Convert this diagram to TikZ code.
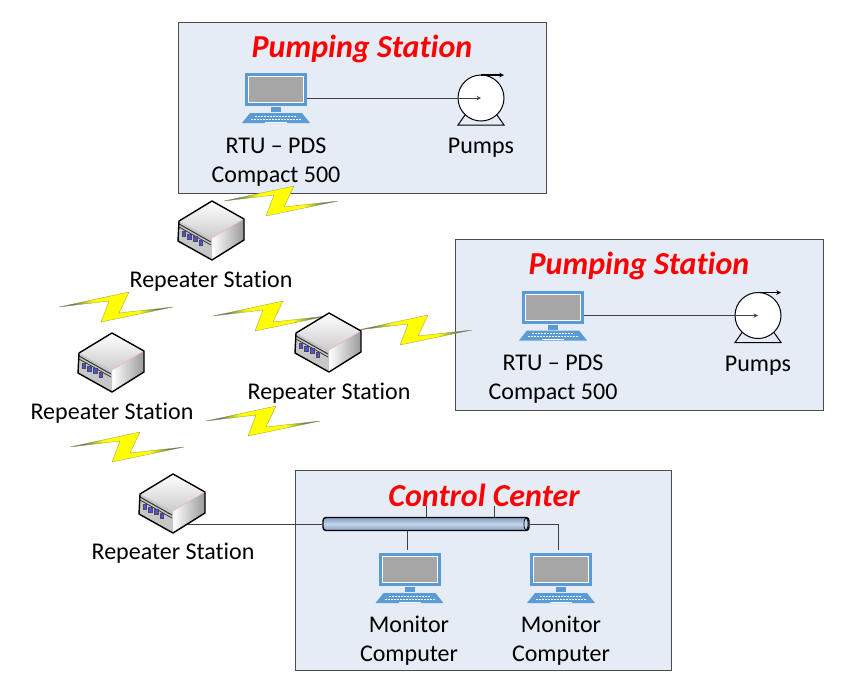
\documentclass[tikz,border=0pt]{standalone}
\usepackage{fontspec}
\setmainfont{Carlito}[Ligatures=NoCommon]
\definecolor{boxfill}{HTML}{E6ECF6}
\definecolor{pcblue}{HTML}{5B9BD5}
\definecolor{pcgray}{HTML}{A6A6A6}
\definecolor{wireline}{HTML}{404040}
\definecolor{busdark}{HTML}{7F9FC4}
\definecolor{buslight}{HTML}{C5D5E8}
\pgfdeclarehorizontalshading{boltshade}{100bp}{rgb(0bp)=(0.1,0.3,0.55); rgb(28bp)=(0.1,0.3,0.55); rgb(40bp)=(1,1,0); rgb(60bp)=(1,1,0); rgb(72bp)=(0.1,0.3,0.55); rgb(100bp)=(0.1,0.3,0.55)}
\tikzset{
    stationbox/.style={draw=black!70, fill=boxfill, line width=0.8pt},
    title/.style={text=red, font=\fontsize{32}{38}\selectfont\bfseries\itshape, inner sep=0pt},
    label/.style={font=\fontsize{24}{29}\selectfont, align=center, inner sep=0pt},
    wire/.style={draw=wireline, line width=1pt},
    % Computer: origine al centro del bordo superiore dello schermo
    computer/.pic={
        \fill[pcblue] (-31,0) rectangle (31,33);
        \fill[white] (-28,3) rectangle (28,30);
        \fill[pcgray] (-27,4) rectangle (27,29);
        \fill[pcblue] (-5,34) rectangle (5,39);
        \fill[pcblue] (-26,40) -- (26,40) -- (34,50) -- (-34,50) -- cycle;
        \draw[white, line width=1pt, dash pattern=on 2pt off 1pt] (-21,43) -- (21,43);
        \draw[white, line width=1pt, dash pattern=on 2pt off 1pt] (-25,46) -- (25,46);
        \draw[white, line width=1pt] (-11,49) -- (11,49);
        \coordinate (-out) at (31,25);
        \coordinate (-top) at (-2.5,-3);
    },
    % Pompa: origine al centro del cerchio
    pump/.pic={
        \draw[line width=1pt] (-16,17) -- (-23,27) -- (23,27) -- (16,17);
        \draw[fill=white, line width=1pt] (0,0) circle (23);
        \draw[->, line width=1.1pt] (0,-23) -- (23,-23);
        \coordinate (-in) at (0,0);
    },
    % Repeater: origine allo spigolo centrale
    repeater/.pic={
        \shade[top color=white, bottom color=black!20] (0,-37) -- (-33,-17) -- (0,0) -- (32,-19) -- cycle;
        \shade[left color=white, right color=black!40] (0,0) -- (32,-19) -- (32,2) -- (0,22) -- cycle;
        \fill[black!22] (0,0) -- (-33,-17) -- (-34,3) -- (0,22) -- cycle;
        \draw[magenta!35, line width=0.5pt] (0,0) -- (32,-19);
        \draw[black!80, line width=1pt] (-33,-14) -- (-1,4);
        \draw[black!80, line width=0.8pt] (-33,-11) -- (-1,7);
        \foreach \px/\py in {-28.3/-4.3, -22.7/-1.7, -17/1, -11.3/4.5}
            \filldraw[blue!70!white, draw=black!70, line width=0.4pt] (\px-1.7,\py-2.5) rectangle (\px+1.7,\py+2.5);
        \draw[line width=1.4pt, line join=round] (0,-37) -- (-33,-17) -- (-34,3) -- (0,22) -- (32,2) -- (32,-19) -- cycle;
        \coordinate (-port) at (15,13);
    },
    % Fulmine: origine al centro
    bolt/.pic={
        \path[draw=black!45!yellow, line width=0.3pt, shade, shading=boltshade]
            (-57,0) -- (13,-15) -- (3,6) -- (57,0) -- (-15,15) -- (-7,-6) -- cycle;
    }
}
\begin{document}
\begin{tikzpicture}[>=stealth, x=1pt, y=-1pt]
    \useasboundingbox (0,0) rectangle (859,697);

    % Riquadri delle stazioni
    \node[stationbox, minimum width=368pt, minimum height=171pt, inner sep=0pt] (pumpboxa) at (362.5,107.5) {};
    \node[stationbox, minimum width=368pt, minimum height=171pt, inner sep=0pt] (pumpboxb) at (639,324.5) {};
    \node[stationbox, minimum width=376pt, minimum height=200pt, inner sep=0pt] (controlbox) at (483.5,570) {};

    % Titoli
    \node[title] (titlea) at (362,48.5) {Pumping Station};
    \node[title] (titleb) at (639,265.5) {Pumping Station};
    \node[title] (titlec) at (484,495) {Control Center};

    % Fulmini, prima dei repeater che ne coprono le punte
    \pic (bolta) at (281,201) {bolt};
    \pic (boltb) at (415,330) {bolt};
    \pic (boltc) at (116,307) {bolt};
    \pic (boltd) at (270,316) {bolt};
    \pic (bolte) at (263,421) {bolt};
    \pic (boltf) at (127,447) {bolt};

    % Prima stazione di pompaggio
    \pic (rtua) at (276,73) {computer};
    \pic (pumpa) at (481,98) {pump};
    \draw[->, wire] (rtua-out) -- (pumpa-in);
    \node[label] (rtualabel) at (276,162.5) {RTU – PDS\\Compact 500};
    \node[label] (pumpalabel) at (481,147.5) {Pumps};

    % Seconda stazione di pompaggio
    \pic (rtub) at (553,290.5) {computer};
    \pic (pumpb) at (758,315.5) {pump};
    \draw[->, wire] (rtub-out) -- (pumpb-in);
    \node[label] (rtublabel) at (553,379.5) {RTU – PDS\\Compact 500};
    \node[label] (pumpblabel) at (758,365.5) {Pumps};

    % Repeater
    \pic (repa) at (212,238) {repeater};
    \pic (repb) at (329,350) {repeater};
    \pic (repc) at (112,370) {repeater};
    \pic (repd) at (173,511) {repeater};
    \node[label] (repalabel) at (211,281) {Repeater Station};
    \node[label] (repblabel) at (329,393) {Repeater Station};
    \node[label] (repclabel) at (112,413) {Repeater Station};
    \node[label] (repdlabel) at (173,553) {Repeater Station};

    % Centro di controllo: bus e computer
    \pic (mona) at (409.5,553) {computer};
    \pic (monb) at (561,553) {computer};
    \coordinate (stuba) at (426,506);
    \coordinate (stubb) at (494,506);
    \node[draw=black, line width=1.4pt, rounded corners=3pt, minimum width=206pt, minimum height=13pt, inner sep=0pt,
        top color=busdark, bottom color=busdark, middle color=buslight] (bus) at (426,524) {};
    \draw[black, line width=0.7pt, fill=buslight] (526,524) ellipse (2 and 6);
    \draw[wire] (repd-port) -- (bus.west);
    \draw[wire] (stuba) -- (stuba |- bus.north);
    \draw[wire] (stubb) -- (stubb |- bus.north);
    \draw[wire] (mona-top |- bus.south) -- (mona-top);
    \draw[wire] (bus.east) -| (monb-top);
    \node[label] (monalabel) at (409,641) {Monitor\\Computer};
    \node[label] (monblabel) at (561,641) {Monitor\\Computer};

\end{tikzpicture}
\end{document}
